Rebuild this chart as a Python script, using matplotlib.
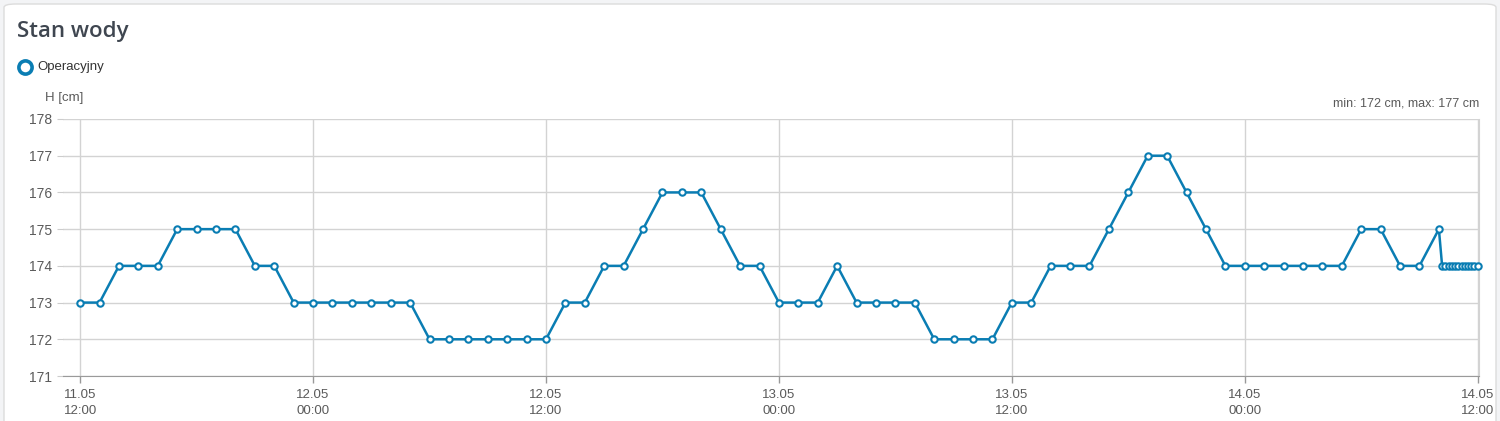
import numpy as np
import pandas as pd
import matplotlib
matplotlib.use("Agg")
import matplotlib.pyplot as plt
from matplotlib.patches import FancyBboxPatch

plt.rcParams['font.family'] = ['Liberation Sans', 'DejaVu Sans']

# hourly readings, 11.05 12:00 -> 14.05 10:00
hourly_values = [
    173, 173, 174, 174, 174, 175, 175, 175, 175, 174, 174, 173,
    173, 173, 173, 173, 173, 173, 172, 172, 172, 172, 172, 172,
    172, 173, 173, 174, 174, 175, 176, 176, 176, 175, 174, 174,
    173, 173, 173, 174, 173, 173, 173, 173, 172, 172, 172, 172,
    173, 173, 174, 174, 174, 175, 176, 177, 177, 176, 175, 174,
    174, 174, 174, 174, 174, 174, 175, 175, 174, 174, 175,
]
# 10-minute readings, 14.05 10:10 -> 12:00
tenmin_values = [174, 174, 174, 174, 174, 174, 174, 174, 174, 174, 174, 174]

hourly_times = pd.date_range("2024-05-11 12:00", periods=len(hourly_values), freq="h")
tenmin_times = pd.date_range("2024-05-14 10:10", periods=len(tenmin_values), freq="10min")
times = list(hourly_times) + list(tenmin_times)
values = hourly_values + tenmin_values

tick_times = pd.date_range("2024-05-11 12:00", "2024-05-14 12:00", freq="12h")
tick_labels = ["11.05\n12:00", "12.05\n00:00", "12.05\n12:00", "13.05\n00:00",
               "13.05\n12:00", "14.05\n00:00", "14.05\n12:00"]
y_ticks = [171, 172, 173, 174, 175, 176, 177, 178]

blue = "#0a7db3"
grid_c = "#d3d3d3"
txt_c = "#5a5a5a"

fig = plt.figure(figsize=(15, 4.21), dpi=100)
fig.patch.set_facecolor("#f3f4f6")

# card background
card = FancyBboxPatch((4 / 1500, -0.05), 1492 / 1500, 1 - 4 / 421 + 0.05,
                      boxstyle="round,pad=0,rounding_size=0.008",
                      transform=fig.transFigure, facecolor="white",
                      edgecolor="#dcdcdc", linewidth=1.0, zorder=-5)
fig.patches.append(card)

ax = fig.add_axes([63 / 1500, 1 - 376 / 421, (1479 - 63) / 1500, 257 / 421])
ax.set_facecolor("none")
ax.set_zorder(2)

ax.plot(times, values, color=blue, linewidth=1.8, marker="o", markersize=4.6,
        markerfacecolor="white", markeredgecolor=blue, markeredgewidth=1.5,
        zorder=3, clip_on=False)

start = tick_times[0]
ax.set_xlim(start - pd.Timedelta(minutes=53), tick_times[-1] + pd.Timedelta(minutes=4))
ax.set_ylim(171, 178)

ax.set_xticks(tick_times)
ax.set_xticklabels(tick_labels)
ax.set_yticks(y_ticks)
ax.tick_params(axis="x", length=5, color="#999999", labelsize=9.5, labelcolor=txt_c,
               pad=4, width=1)
ax.tick_params(axis="y", length=4, color="#cccccc", labelsize=10, labelcolor=txt_c,
               pad=4)
for lbl in ax.get_xticklabels():
    lbl.set_linespacing(1.55)

ax.grid(True, color=grid_c, linewidth=1.0)
ax.set_axisbelow(True)
for s in ["top", "left"]:
    ax.spines[s].set_visible(False)
ax.spines["right"].set_color(grid_c)
ax.spines["bottom"].set_color("#9a9a9a")

# title, legend, labels
fig.text(17 / 1500, 1 - 32 / 421, "Stan wody", fontsize=16, fontweight="semibold",
         color="#3f4650", family=["Open Sans", "DejaVu Sans"], va="center", ha="left")
fig.lines.append(plt.Line2D([25 / 1500], [1 - 67 / 421], transform=fig.transFigure,
                            marker="o", markersize=9.5, markerfacecolor="white",
                            markeredgecolor=blue, markeredgewidth=2.6))
fig.text(37 / 1500, 1 - 67 / 421, "Operacyjny", fontsize=9.5, color="#333333",
         va="center", ha="left")
fig.text(45 / 1500, 1 - 98 / 421, "H [cm]", fontsize=9.5, color=txt_c,
         va="center", ha="left")
fig.text(1479 / 1500, 1 - 103 / 421, "min: 172 cm, max: 177 cm", fontsize=9,
         color=txt_c, va="center", ha="right")

fig.savefig("out.png", dpi=100, facecolor=fig.get_facecolor())
